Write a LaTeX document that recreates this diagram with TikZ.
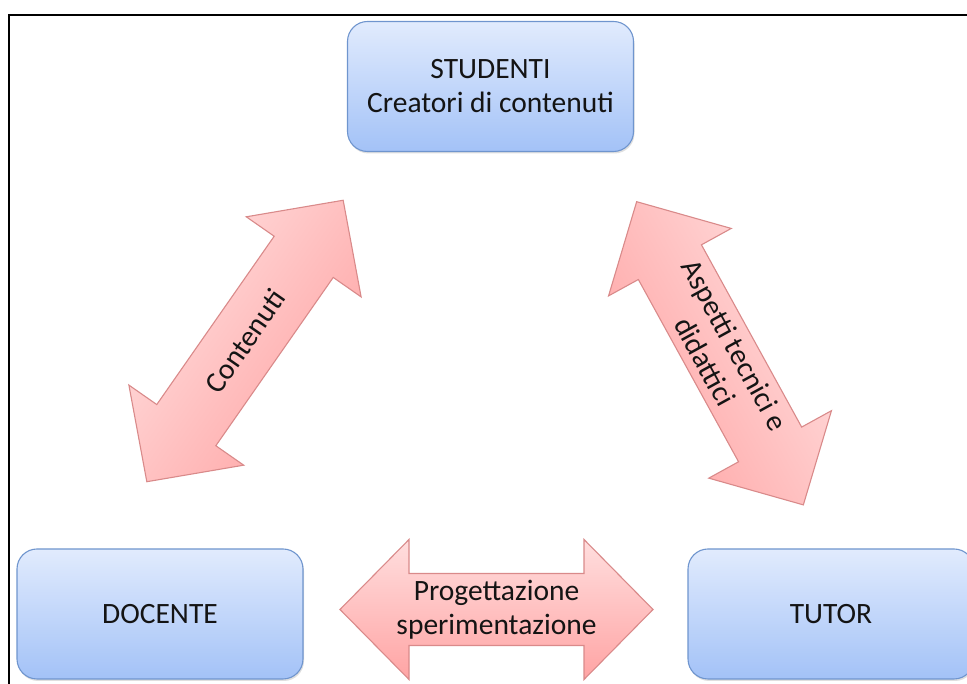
\documentclass[tikz,border=0pt]{standalone}
\usepackage{fontspec}
\setmainfont{Carlito}
\usetikzlibrary{shadows}
\definecolor{boxtop}{HTML}{E1EBFD}
\definecolor{boxbot}{HTML}{A3C2F7}
\definecolor{boxline}{HTML}{6F95CE}
\definecolor{arrtop}{HTML}{FFDEDE}
\definecolor{arrbot}{HTML}{FFA4A4}
\definecolor{arrline}{HTML}{D98A8A}
\tikzset{
  rolebox/.style={draw=boxline, line width=1.1pt, rounded corners=20pt,
    top color=boxtop, bottom color=boxbot, minimum width=286pt, minimum height=130pt,
    align=center, font=\fontsize{29.5}{34}\selectfont, text=black!92,
    drop shadow={opacity=0.25, shadow xshift=1pt, shadow yshift=-2pt}},
  arrowshape/.style={draw=arrline, line width=1.1pt, top color=arrtop, bottom color=arrbot},
  arrowtext/.style={align=center, font=\fontsize{29.5}{34}\selectfont, text=black!92, inner sep=0pt},
  framestyle/.style={line width=2.5pt}
}
\newcommand{\twoway}[4]{%
  \begin{scope}[shift={#2}, rotate=#3]
    \path[arrowshape, shading angle=#3] (-#4,0) -- (-#4+69,70) -- (-#4+69,36) -- (#4-69,36)
      -- (#4-69,70) -- (#4,0) -- (#4-69,-70) -- (#4-69,-36) -- (-#4+69,-36) -- (-#4+69,-70) -- cycle;
    \coordinate (#1) at (0,0);
  \end{scope}}
\begin{document}
\begin{tikzpicture}[x=1pt, y=1pt]
  \useasboundingbox (0,0) rectangle (967,684);
  \clip (0,0) rectangle (967,684);
  \draw[framestyle] (9,-10) -- (9,669) -- (990,669);

  \node[rolebox] (studenti) at (490.5,597.5) {STUDENTI\\Creatori di contenuti};
  \node[rolebox] (docente) at (160,70) {DOCENTE};
  \node[rolebox] (tutor) at (831,70) {TUTOR};

  \twoway{hArrow}{(496.5,74.5)}{0}{156.5}
  \twoway{lArrow}{(245,343)}{55.1}{171.6}
  \twoway{rArrow}{(720,330.7)}{-61.2}{173}

  \node[arrowtext] (hLabel) at (hArrow) {Progettazione\\sperimentazione};
  \node[arrowtext, rotate=55.1] (lLabel) at (lArrow) {Contenuti};
  \node[arrowtext, rotate=-61.2] (rLabel) at (rArrow) {Aspetti tecnici e\\didattici};
\end{tikzpicture}
\end{document}
